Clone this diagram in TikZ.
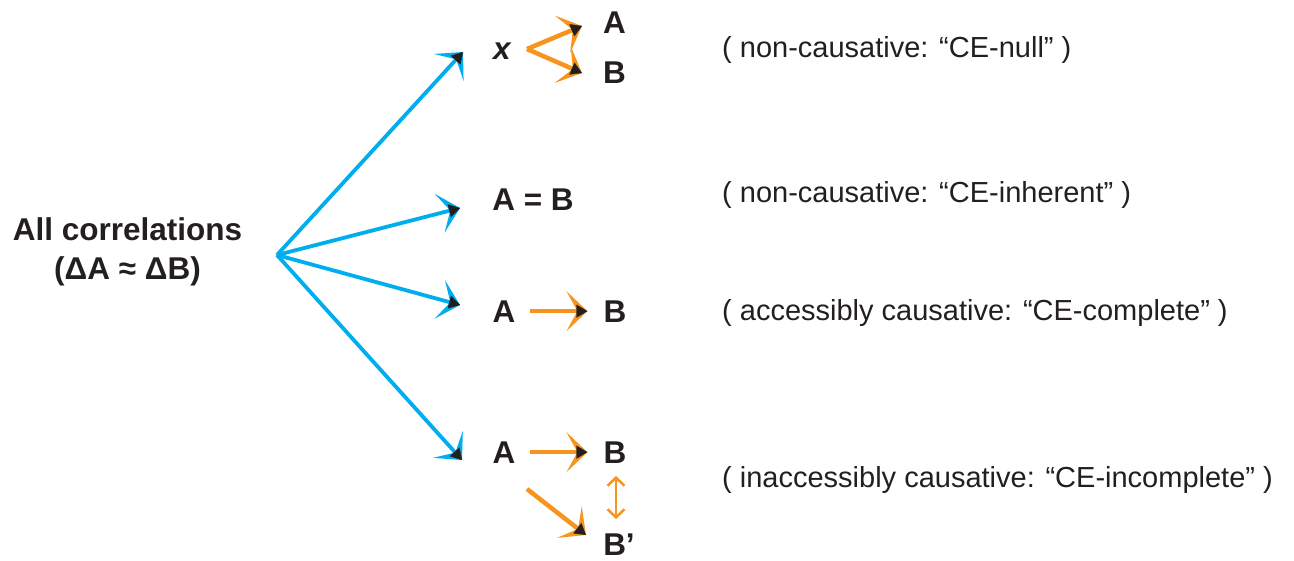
\documentclass[tikz,border=0pt]{standalone}
\usepackage{fontspec}
\setmainfont{Liberation Sans}
\usetikzlibrary{arrows.meta}
\definecolor{cblue}{HTML}{00AEEF}
\definecolor{corange}{HTML}{F7941D}
\definecolor{ink}{HTML}{231F20}
\begin{document}
\begin{tikzpicture}[x=1pt,y=-1pt,
  lbl/.style={font=\fontsize{31.5}{37}\selectfont\bfseries, text=ink, inner sep=0pt, anchor=base},
  note/.style={font=\fontsize{29}{34}\selectfont, text=ink, inner sep=0pt, anchor=base west},
  bigtip/.style={-{Stealth[length=21pt,width=40pt,inset=11pt]}},
  blk/.style={line width=0.3pt, -{Triangle[length=11pt,width=13pt,color=ink]}},
  barr/.style={draw=cblue, line width=3.8pt, bigtip},
  oarr/.style={draw=corange, line width=4.5pt, bigtip},
  btip/.style={draw=cblue, blk},
  otip/.style={draw=corange, blk},
  darr/.style={draw=corange, line width=2.5pt, {Straight Barb[length=8pt,width=17pt]}-{Straight Barb[length=8pt,width=17pt]}},
]
\useasboundingbox (0,0) rectangle (1294,560);

% left label
\node[lbl] (all) at (127.5,240) {All correlations};
\node[lbl] (delta) at (127.5,279) {(ΔA ≈ ΔB)};
\coordinate (hub) at (277,255);

% targets of the blue arrows
\coordinate (t1) at (463,52);
\coordinate (t2) at (460,208);
\coordinate (t3) at (460,305);
\coordinate (t4) at (462,460);

% row 1
\node[lbl, font=\fontsize{31.5}{37}\selectfont\bfseries\itshape] (x) at (502,59) {x};
\node[lbl] (a1) at (614.5,33) {A};
\node[lbl] (b1) at (614.5,83) {B};
\coordinate (xv) at (527,49);
\coordinate (xa) at (582,26);
\coordinate (xb) at (582,73);

% row 2
\node[lbl] (eq) at (533,210) {A = B};

% row 3
\node[lbl] (a3) at (504,322) {A};
\node[lbl] (b3) at (615,322) {B};

% row 4
\node[lbl] (a4) at (504,463) {A};
\node[lbl] (b4) at (615,463) {B};
\node[lbl] (b5) at (619,555) {B’};
\coordinate (d0) at (527,489);
\coordinate (d1) at (586,535);
\coordinate (v0) at (616,476);
\coordinate (v1) at (616,519);

% notes
\node[note] (n1) at (722,57.5) {( non-causative: “CE-null” )};
\node[note] (n2) at (722,202.5) {( non-causative: “CE-inherent” )};
\node[note] (n3) at (722,320.5) {( accessibly causative: “CE-complete” )};
\node[note] (n4) at (722,487.5) {( inaccessibly causative: “CE-incomplete” )};

% blue connectors
\foreach \t in {t1,t2,t3,t4}{
  \draw[barr] (hub) -- (\t);
  \draw[btip] (hub) -- (\t);
}

% orange connectors
\foreach \a/\b in {xv/xa, xv/xb, d0/d1}{
  \draw[oarr] (\a) -- (\b);
  \draw[otip] (\a) -- (\b);
}
\draw[oarr, shorten <=14pt, shorten >=16pt] (a3.east) -- (b3.west);
\draw[otip, shorten <=14pt, shorten >=16pt] (a3.east) -- (b3.west);
\draw[oarr, shorten <=14pt, shorten >=16pt] (a4.east) -- (b4.west);
\draw[otip, shorten <=14pt, shorten >=16pt] (a4.east) -- (b4.west);
\draw[darr] (v0) -- (v1);
\end{tikzpicture}
\end{document}
